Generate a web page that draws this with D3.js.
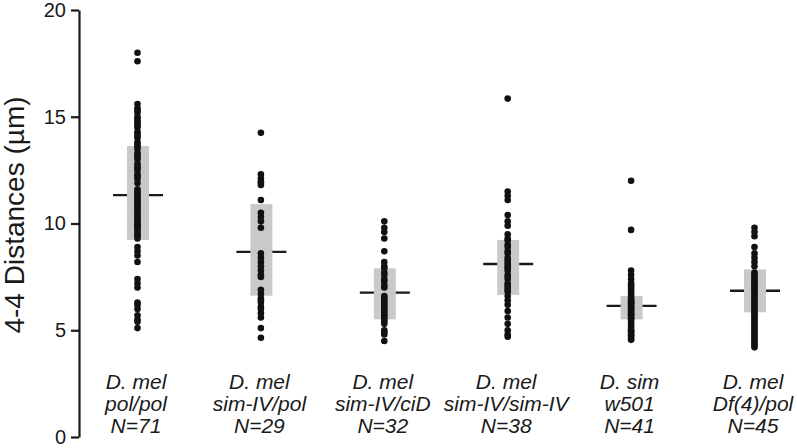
<!DOCTYPE html>
<html>
<head>
<meta charset="utf-8">
<script src="https://cdn.jsdelivr.net/npm/d3@7/dist/d3.min.js"></script>
<style>
  html, body { margin: 0; padding: 0; background: #fff; }
  svg { display: block; }
  svg text { font-family: "Liberation Sans", Arial, sans-serif; }
</style>
</head>
<body>
<svg id="chart" width="797" height="448"></svg>
<script>
// ---- Data ----
const categories = ["pol/pol", "sim-IV/pol", "sim-IV/ciD", "sim-IV/sim-IV", "w501", "Df(4)/pol"];
const speciesLabels = ["D. mel", "D. mel", "D. mel", "D. mel", "D. sim", "D. mel"];
const nLabels = ["N=71", "N=29", "N=32", "N=38", "N=41", "N=45"];

const meanValues = [11.33, 8.67, 6.76, 8.1, 6.14, 6.85];
const boxLow = [9.23, 6.62, 5.51, 6.65, 5.51, 5.84];
const boxHigh = [13.63, 10.91, 7.9, 9.23, 6.6, 7.85];

const valuesPolPol = [18.0, 17.6,
  15.6, 15.4, 15.2, 15.0, 14.9, 14.7, 14.5, 14.3, 14.1, 14.0, 13.8, 13.6, 13.5, 13.3, 13.1, 13.0, 12.8, 12.6, 12.5, 12.3, 12.1,
  15.3, 14.8, 14.6, 14.2, 13.7, 13.2, 12.7, 12.2, 11.9, 11.4, 11.1, 10.7, 10.1, 9.9,
  11.6, 11.5, 11.3, 11.2, 11.0, 10.9, 10.8, 10.6, 10.5, 10.4, 10.3, 10.2, 10.0, 9.9, 9.8, 9.7, 9.6, 9.5, 9.4, 9.3,
  8.9, 8.7, 8.5, 8.2, 7.4, 7.2, 7.0, 6.3, 6.2, 6.0, 5.7, 5.5, 5.4, 5.1];
const valuesSimPol = [14.25, 12.3, 12.1, 11.95, 11.9, 11.8, 11.1, 10.5, 10.3, 10.1, 9.8,
  8.6, 8.4, 8.2, 8.0, 7.8, 7.6, 7.5, 6.9, 6.7, 6.5, 6.4, 6.3, 6.1, 6.0, 5.8, 5.6, 5.1, 4.65];
const valuesSimCiD = [10.1, 9.8, 9.6, 9.3, 8.7, 8.2, 8.0, 7.9, 7.7, 7.6, 7.4, 7.3, 7.1, 7.0,
  6.6, 6.5, 6.4, 6.3, 6.2, 6.1, 6.0, 5.9, 5.8, 5.7, 5.6, 5.5, 5.4, 5.3, 5.0, 4.9, 4.8, 4.5];
const valuesSimSim = [15.85, 11.5, 11.3, 11.1, 10.4, 10.1, 9.9, 9.5, 9.3, 9.2, 9.0, 8.9, 8.7, 8.6, 8.4, 8.3,
  8.2, 8.1, 8.0, 7.9, 7.8, 7.6, 7.5, 7.4, 7.2, 7.1, 7.0, 6.9, 6.8, 6.6, 6.4, 6.2, 5.9, 5.6, 5.3, 5.0, 4.8, 4.7];
const valuesW501 = [12.0, 9.7, 7.8, 7.6, 7.4, 7.2, 7.1, 7.0, 6.9, 6.8, 6.7, 6.6, 6.5, 6.4, 6.35, 6.3, 6.25, 6.2,
  6.1, 6.05, 6.0, 5.95, 5.9, 5.8, 5.75, 5.7, 5.6, 5.55, 5.5, 5.4, 5.3, 5.2, 5.1, 5.0, 4.95, 4.9, 4.8, 4.75, 4.7, 4.6, 4.55];
const valuesDf4Pol = [9.8, 9.6, 9.4, 8.9, 8.6, 8.4, 8.2, 8.0, 7.7, 7.6, 7.5, 7.4, 7.3, 7.2, 7.1, 7.0, 6.95, 6.9,
  6.8, 6.7, 6.6, 6.5, 6.4, 6.3, 6.2, 6.1, 6.0, 5.9, 5.8, 5.7, 5.6, 5.5, 5.4, 5.3, 5.2, 5.1, 5.0, 4.9, 4.8, 4.7,
  4.6, 4.5, 4.4, 4.3, 4.2];
const seriesValues = [valuesPolPol, valuesSimPol, valuesSimCiD, valuesSimSim, valuesW501, valuesDf4Pol];

const yTicks = [0, 5, 10, 15, 20];
const yTitle = "4-4 Distances (µm)";

// ---- Layout ----
const svg = d3.select("#chart");
const axisX = 79;
const y = d3.scaleLinear().domain([0, 20]).range([437, 10]);
const x = d3.scaleBand().domain(categories).range([76.3, 816.7]);
const cx = c => x(c) + x.bandwidth() / 2;

// Axis
const yAxis = d3.axisLeft(y).tickValues(yTicks).tickSize(8).tickPadding(5).tickSizeOuter(0);
const ag = svg.append("g").attr("transform", `translate(${axisX},0)`).call(yAxis);
ag.attr("font-family", null).attr("font-size", null);
ag.select(".domain").attr("stroke", "#1a1a1a").attr("stroke-width", 2.2);
ag.selectAll(".tick line").attr("stroke", "#1a1a1a").attr("stroke-width", 2.2);
ag.selectAll(".tick text").attr("font-size", 20).attr("fill", "#1a1a1a");

// Axis title
svg.append("text")
  .attr("transform", `translate(24,215) rotate(-90)`)
  .attr("text-anchor", "middle")
  .attr("font-size", 28)
  .attr("fill", "#1a1a1a")
  .text(yTitle);

// Groups
const groups = svg.append("g").selectAll("g").data(categories).join("g");

// Mean lines (behind box)
groups.append("line")
  .attr("x1", c => cx(c) - 25).attr("x2", c => cx(c) + 25)
  .attr("y1", (c, i) => y(meanValues[i])).attr("y2", (c, i) => y(meanValues[i]))
  .attr("stroke", "#1a1a1a").attr("stroke-width", 2.4);

// Boxes
groups.append("rect")
  .attr("x", c => cx(c) - 11).attr("width", 22)
  .attr("y", (c, i) => y(boxHigh[i]))
  .attr("height", (c, i) => y(boxLow[i]) - y(boxHigh[i]))
  .attr("fill", "#c9c9c9");

// Dots
groups.each(function (c, i) {
  d3.select(this).selectAll("circle").data(seriesValues[i]).join("circle")
    .attr("cx", cx(c) - 0.5)
    .attr("cy", d => y(d))
    .attr("r", 3.3)
    .attr("fill", "#111");
});

// Category labels
groups.each(function (c, i) {
  const t = d3.select(this).append("text")
    .attr("text-anchor", "middle")
    .attr("font-size", 21)
    .attr("font-style", "italic")
    .attr("fill", "#1a1a1a");
  [speciesLabels[i], categories[i], nLabels[i]].forEach((s, k) => {
    t.append("tspan").attr("x", cx(c) - 2).attr("y", 389 + k * 22).text(s);
  });
});
</script>
</body>
</html>
